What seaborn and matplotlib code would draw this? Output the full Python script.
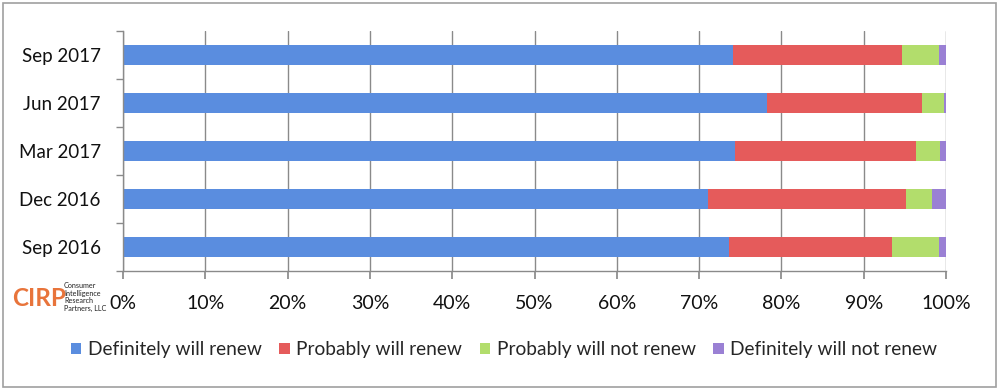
import matplotlib
matplotlib.use("Agg")
import matplotlib.pyplot as plt
import seaborn as sns
import numpy as np
import pandas as pd
from matplotlib.patches import Rectangle, Patch

periods = ["Sep 2017", "Jun 2017", "Mar 2017", "Dec 2016", "Sep 2016"]
series = ["Definitely will renew", "Probably will renew",
          "Probably will not renew", "Definitely will not renew"]
definitely_renew = [74.1, 78.3, 74.4, 71.1, 73.6]
probably_renew = [20.5, 18.8, 21.9, 24.0, 19.8]
probably_not = [4.5, 2.6, 3.0, 3.2, 5.8]
definitely_not = [0.9, 0.3, 0.7, 1.7, 0.8]
xticks = [0, 10, 20, 30, 40, 50, 60, 70, 80, 90, 100]
xtick_labels = [f"{v}%" for v in xticks]
colors = ["#5a8ddf", "#e55b5b", "#b2dd6c", "#9a80d4"]

sns.set_theme(style="white")
plt.rcParams['font.family'] = ['Lato', 'DejaVu Sans']

vals = np.array([definitely_renew, probably_renew, probably_not, definitely_not])
cum = np.cumsum(vals, axis=0)

fig = plt.figure(figsize=(10, 3.9), dpi=100)
ax = fig.add_axes([0.123, 1 - 271 / 390, 0.823, 240 / 390])

for i in range(len(series) - 1, -1, -1):
    df = pd.DataFrame({"period": periods, "value": cum[i]})
    sns.barplot(data=df, x="value", y="period", order=periods, orient="h",
                color=colors[i], width=0.4, ax=ax, saturation=1,
                edgecolor="none", legend=False)

ax.set_xlim(0, 100)
ax.set_ylim(len(periods) - 0.5, -0.5)
ax.set_xticks(xticks)
ax.set_xticklabels(xtick_labels, fontsize=14, color="#111111")
ax.set_yticks(range(len(periods)))
ax.set_yticklabels(periods, fontsize=13.5, color="#111111")
ax.set_xlabel("")
ax.set_ylabel("")
ax.grid(axis="x", color="#8a8a8a", linewidth=1)
ax.set_axisbelow(True)
for s in ["top", "right"]:
    ax.spines[s].set_visible(False)
for s in ["left", "bottom"]:
    ax.spines[s].set_visible(True)
    ax.spines[s].set_color("#8a8a8a")
    ax.spines[s].set_linewidth(1)
ax.tick_params(axis="x", which="major", length=6, color="#8a8a8a", pad=11, direction="out", bottom=True)
ax.tick_params(axis="y", which="major", length=0, pad=16)
ax.set_yticks(np.arange(-0.5, len(periods), 1), minor=True)
ax.tick_params(axis="y", which="minor", length=5, color="#8a8a8a", left=True)

handles = [Patch(facecolor=c, edgecolor="none") for c in colors]
fig.legend(handles, series,
           loc="center", bbox_to_anchor=(0.504, 1 - 350 / 390), ncol=4,
           frameon=False, fontsize=13.8, handlelength=0.55, handleheight=0.55,
           handletextpad=0.35, columnspacing=0.9)

# logo
fig.text(0.012, 1 - 298 / 390, "CIRP", color="#e8743b", fontsize=17.5, fontweight="bold",
         family=["Lato", "DejaVu Sans"], va="center", ha="left")
fig.text(0.064, 1 - 297 / 390, "Consumer\nIntelligence\nResearch\nPartners, LLC",
         fontsize=5.2, color="#222222", va="center", ha="left", linespacing=1.15,
         family=["Lato", "DejaVu Sans"])

fig.patches.append(Rectangle((0.003, 0.008), 0.993, 0.984, transform=fig.transFigure,
                             fill=False, edgecolor="#a0a0a0", linewidth=1.2))

fig.savefig("out.png", dpi=100)
